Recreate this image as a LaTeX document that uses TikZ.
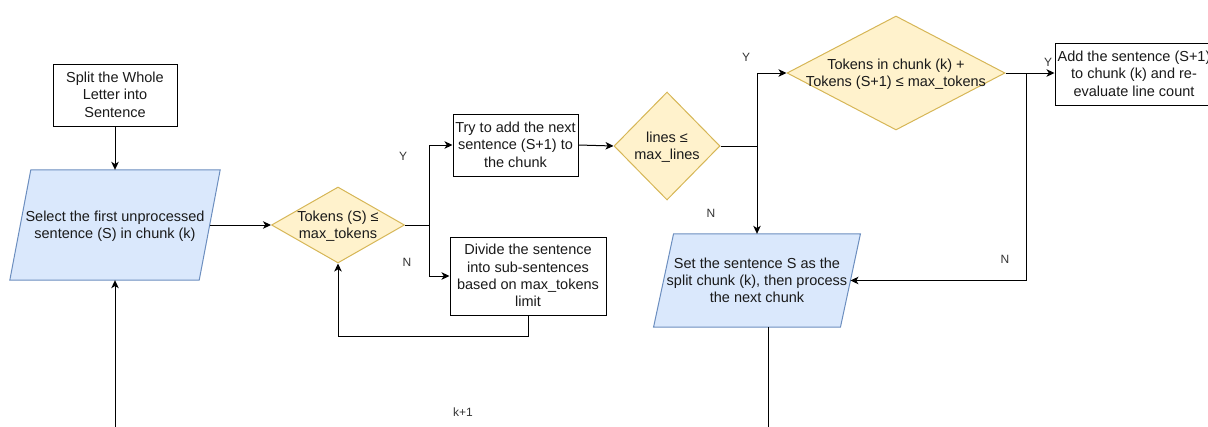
\documentclass[tikz,border=0pt]{standalone}
\usepackage{fontspec}
\setmainfont{Liberation Sans}
\usetikzlibrary{shapes.geometric,arrows.meta,backgrounds,calc}
\definecolor{bfill}{HTML}{DAE8FC}
\definecolor{bline}{HTML}{6C8EBF}
\definecolor{yfill}{HTML}{FFF2CC}
\definecolor{yline}{HTML}{D6B656}
\definecolor{txtc}{HTML}{1A1A1A}
\definecolor{lblc}{HTML}{333333}
\newcommand{\zt}[1]{\makebox[0pt]{\raisebox{-5pt}[0pt][0pt]{\begin{tabular}{@{}c@{}}#1\end{tabular}}}}
\begin{document}
\begin{tikzpicture}[x=1pt,y=-1pt,
  font=\fontsize{14.5}{17.3}\selectfont,
  box/.style={draw=black, fill=white, rectangle, inner sep=0pt, line width=1pt, text=txtc},
  dia/.style={draw=yline, fill=yfill, diamond, inner sep=0pt, line width=1pt, text=txtc},
  para/.style={rectangle, inner sep=0pt, draw=none, text=txtc},
  pfill/.style={draw=bline, fill=bfill, line width=1pt},
  arr/.style={-{Stealth[length=8pt,width=7.5pt,inset=2.2pt]}, line width=1pt, draw=black},
  con/.style={line width=1pt, draw=black},
  lbl/.style={font=\fontsize{12}{14}\selectfont, text=lblc, inner sep=0pt}]
\useasboundingbox (0,0) rectangle (1208,426);

% nodes
\node[box, minimum width=124pt, minimum height=62pt] (b1) at (115,95) {\zt{Split the Whole\\Letter into\\Sentence}};
\node[para, minimum width=189pt, minimum height=110pt] (p1) at (115,225) {\zt{Select the first unprocessed\\sentence (S) in chunk (k)}};
\node[dia, minimum width=133pt, minimum height=76pt] (d1) at (338,225) {\zt{Tokens (S) ≤\\max\_tokens}};
\node[box, minimum width=125pt, minimum height=62pt] (b2) at (515.5,145) {\zt{Try to add the next\\sentence (S+1) to\\the chunk}};
\node[box, minimum width=156pt, minimum height=78pt] (b3) at (528,276) {\zt{Divide the sentence\\into sub-sentences\\based on max\_tokens\\limit}};
\node[dia, minimum width=106pt, minimum height=108pt] (d2) at (667,146) {\zt{lines ≤\\max\_lines}};
\node[dia, minimum width=218pt, minimum height=114pt] (d3) at (896,73) {\zt{Tokens in chunk (k) +\\Tokens (S+1) ≤ max\_tokens}};
\node[box, minimum width=158pt, minimum height=62pt] (b4) at (1134,74) {\zt{Add the sentence (S+1)\\to chunk (k) and re-\\evaluate line count}};
\node[para, minimum width=186.5pt, minimum height=93pt] (p2) at (757,280.5) {\zt{Set the sentence S as the\\split chunk (k), then process\\the next chunk}};

% parallelogram bodies
\begin{scope}[on background layer]
\path[pfill] ([xshift=10.5pt]p1.north west) -- ([xshift=10.5pt]p1.north east) -- ([xshift=-10.5pt]p1.south east) -- ([xshift=-10.5pt]p1.south west) -- cycle;
\path[pfill] ([xshift=10pt]p2.north west) -- ([xshift=10pt]p2.north east) -- ([xshift=-10pt]p2.south east) -- ([xshift=-10pt]p2.south west) -- cycle;
\end{scope}

% junctions and free ends
\coordinate (j1) at (429,225);
\coordinate (j2) at (757,146);
\coordinate (j3) at (1026,73);
\coordinate (cb1) at (115,430);
\coordinate (cb2) at (768,430);

% connectors
\draw[arr] (b1.south) -- (p1.north);
\draw[arr] (cb1) -- (p1.south);
\draw[arr] (p1.east) -- (d1.west);
\draw[con] (d1.east) -- (j1);
\draw[arr] (j1) |- (b2.west);
\draw[arr] (j1) |- (b3.west);
\draw[arr] (b3.south) -- ++(0,21) -| (d1.south);
\draw[arr] (b2.east) -- (d2.west);
\draw[con] (d2.east) -- (j2);
\draw[arr] (j2) |- (d3.west);
\draw[arr] (j2) -- (p2.north);
\draw[arr] (d3.east) -- (d3.east -| b4.west);
\draw[arr] (j3) |- (p2.east);
\draw[con] (p2.south -| cb2) -- (cb2);

% labels
\node[lbl] (ly1) at (403,156) {Y};
\node[lbl] (ln1) at (407,262) {N};
\node[lbl] (ly2) at (746,57) {Y};
\node[lbl] (ln2) at (711,213) {N};
\node[lbl] (ly3) at (1048,62) {Y};
\node[lbl] (ln3) at (1005,259) {N};
\node[lbl] (lk) at (463,412) {k+1};
\end{tikzpicture}
\end{document}
